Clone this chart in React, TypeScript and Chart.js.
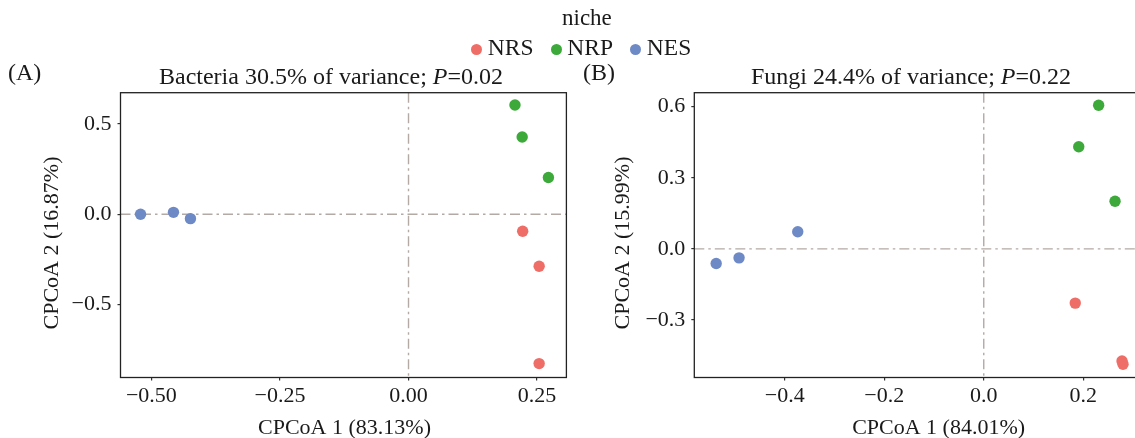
import React, { useEffect, useRef } from "react";
import { Chart, registerables } from "chart.js";

Chart.register(...registerables);

// ---------------- data ----------------
const niches = ["NRS", "NRP", "NES"];

const bacteriaNRSx = [0.222, 0.254, 0.254];
const bacteriaNRSy = [-0.094, -0.287, -0.826];
const bacteriaNRPx = [0.207, 0.221, 0.272];
const bacteriaNRPy = [0.605, 0.428, 0.204];
const bacteriaNESx = [-0.521, -0.457, -0.424];
const bacteriaNESy = [0.0, 0.011, -0.024];

const fungiNRSx = [0.184, 0.278, 0.28];
const fungiNRSy = [-0.229, -0.473, -0.487];
const fungiNRPx = [0.231, 0.191, 0.264];
const fungiNRPy = [0.606, 0.431, 0.201];
const fungiNESx = [-0.538, -0.492, -0.374];
const fungiNESy = [-0.062, -0.038, 0.072];

const bacteriaXTicks = [-0.5, -0.25, 0, 0.25];
const bacteriaYTicks = [-0.5, 0, 0.5];
const fungiXTicks = [-0.4, -0.2, 0, 0.2];
const fungiYTicks = [-0.3, 0, 0.3, 0.6];

const bacteriaXRange = [-0.56, 0.307];
const bacteriaYRange = [-0.903, 0.673];
const fungiXRange = [-0.582, 0.321];
const fungiYRange = [-0.543, 0.659];

// ---------------- styles ----------------
const COLORS = ["#EE6E67", "#3DA93B", "#6E8AC6"];
const SERIF = "'Liberation Serif', 'Times New Roman', Times, serif";
const TEXT = "#1a1a1a";
const H = 438;

const fmt = (v: number, d: number) => {
  const s = Math.abs(v).toFixed(d);
  return v < -1e-9 ? "\u2212" + s : s;
};

type PanelCfg = {
  left: number;
  width: number;
  areaLeft: number;
  areaBottom: number;
  padTop: number;
  padRight: number;
  label: string;
  labelX: number;
  titleMain: string;
  titleStat: string;
  titleCx: number;
  xTitle: string;
  xTitleCx: number;
  yTitle: string;
  yTitleCx: number;
  series: number[][][];
  xTicks: number[];
  yTicks: number[];
  xRange: number[];
  yRange: number[];
  xDec: number;
  yDec: number;
};

const panelA: PanelCfg = {
  left: 0,
  width: 580,
  areaLeft: 120.5,
  areaBottom: 377.5,
  padTop: 92.7,
  padRight: 13.6,
  label: "(A)",
  labelX: 8,
  titleMain: "Bacteria 30.5% of variance; ",
  titleStat: "=0.02",
  titleCx: 331,
  xTitle: "CPCoA 1 (83.13%)",
  xTitleCx: 344.5,
  yTitle: "CPCoA 2 (16.87%)",
  yTitleCx: 52,
  series: [
    [bacteriaNRSx, bacteriaNRSy],
    [bacteriaNRPx, bacteriaNRPy],
    [bacteriaNESx, bacteriaNESy],
  ],
  xTicks: bacteriaXTicks,
  yTicks: bacteriaYTicks,
  xRange: bacteriaXRange,
  yRange: bacteriaYRange,
  xDec: 2,
  yDec: 1,
};

const panelB: PanelCfg = {
  left: 580,
  width: 580,
  areaLeft: 114.3,
  areaBottom: 377.5,
  padTop: 92.7,
  padRight: 16.6,
  label: "(B)",
  labelX: 3,
  titleMain: "Fungi 24.4% of variance; ",
  titleStat: "=0.22",
  titleCx: 331,
  xTitle: "CPCoA 1 (84.01%)",
  xTitleCx: 358.6,
  yTitle: "CPCoA 2 (15.99%)",
  yTitleCx: 43.4,
  series: [
    [fungiNRSx, fungiNRSy],
    [fungiNRPx, fungiNRPy],
    [fungiNESx, fungiNESy],
  ],
  xTicks: fungiXTicks,
  yTicks: fungiYTicks,
  xRange: fungiXRange,
  yRange: fungiYRange,
  xDec: 1,
  yDec: 1,
};

function makeDecor(cfg: PanelCfg) {
  return {
    id: "decor",
    beforeDatasetsDraw(chart: any) {
      const { ctx, chartArea } = chart;
      const x0 = chart.scales.x.getPixelForValue(0);
      const y0 = chart.scales.y.getPixelForValue(0);
      ctx.save();
      ctx.strokeStyle = "#B3A9A5";
      ctx.lineWidth = 1.4;
      ctx.setLineDash([10, 4, 2.5, 4]);
      ctx.beginPath();
      ctx.moveTo(x0, chartArea.top);
      ctx.lineTo(x0, chartArea.bottom);
      ctx.moveTo(chartArea.left, y0);
      ctx.lineTo(chartArea.right, y0);
      ctx.stroke();
      ctx.restore();
    },
    afterDraw(chart: any) {
      const { ctx, chartArea } = chart;
      ctx.save();
      // panel box
      ctx.strokeStyle = "#222";
      ctx.lineWidth = 1.3;
      ctx.strokeRect(chartArea.left, chartArea.top, chartArea.right - chartArea.left, chartArea.bottom - chartArea.top);

      ctx.fillStyle = TEXT;
      ctx.textBaseline = "alphabetic";
      // panel label
      ctx.font = `24px ${SERIF}`;
      ctx.textAlign = "left";
      ctx.fillText(cfg.label, cfg.labelX, 80);

      // title with italic P
      const parts = [
        { t: cfg.titleMain, f: `24px ${SERIF}` },
        { t: "P", f: `italic 24px ${SERIF}` },
        { t: cfg.titleStat, f: `24px ${SERIF}` },
      ];
      const widths = parts.map((p) => {
        ctx.font = p.f;
        return ctx.measureText(p.t).width;
      });
      let x = cfg.titleCx - widths.reduce((a, b) => a + b, 0) / 2;
      parts.forEach((p, i) => {
        ctx.font = p.f;
        ctx.fillText(p.t, x, 83.8);
        x += widths[i];
      });

      // axis titles
      ctx.font = `22px ${SERIF}`;
      ctx.textAlign = "center";
      ctx.fillText(cfg.xTitle, cfg.xTitleCx, 434);
      ctx.translate(cfg.yTitleCx, 243);
      ctx.rotate(-Math.PI / 2);
      ctx.textBaseline = "middle";
      ctx.fillText(cfg.yTitle, 0, 0);
      ctx.restore();
    },
  };
}

function Panel({ cfg }: { cfg: PanelCfg }) {
  const ref = useRef<HTMLCanvasElement | null>(null);
  useEffect(() => {
    const tickFont = { family: SERIF, size: 22 };
    const grid = {
      drawOnChartArea: false,
      drawTicks: true,
      tickLength: 3,
      tickColor: "#333",
      lineWidth: 1.2,
    };
    const chart = new Chart(ref.current as HTMLCanvasElement, {
      type: "scatter",
      data: {
        datasets: niches.map((n, i) => ({
          label: n,
          data: cfg.series[i][0].map((xv, j) => ({ x: xv, y: cfg.series[i][1][j] })),
          backgroundColor: COLORS[i],
          borderWidth: 0,
          pointRadius: 5.7,
          pointHoverRadius: 5.7,
        })),
      },
      options: {
        responsive: false,
        animation: false,
        devicePixelRatio: 1,
        events: [],
        layout: {
          autoPadding: false,
          padding: { top: cfg.padTop, right: cfg.padRight, left: 0, bottom: 0 },
        },
        plugins: {
          legend: { display: false },
          tooltip: { enabled: false },
          title: { display: false },
        },
        scales: {
          x: {
            type: "linear",
            min: cfg.xRange[0],
            max: cfg.xRange[1],
            afterFit: (s: any) => {
              s.height = H - cfg.areaBottom;
            },
            afterBuildTicks: (s: any) => {
              s.ticks = cfg.xTicks.map((v) => ({ value: v }));
            },
            ticks: {
              font: tickFont,
              color: TEXT,
              padding: 3,
              autoSkip: false,
              maxRotation: 0,
              callback: (v: any) => fmt(Number(v), cfg.xDec),
            },
            grid,
            border: { display: false },
          },
          y: {
            type: "linear",
            min: cfg.yRange[0],
            max: cfg.yRange[1],
            afterFit: (s: any) => {
              s.width = cfg.areaLeft;
            },
            afterBuildTicks: (s: any) => {
              s.ticks = cfg.yTicks.map((v) => ({ value: v }));
            },
            ticks: {
              font: tickFont,
              color: TEXT,
              padding: 6,
              autoSkip: false,
              callback: (v: any) => fmt(Number(v), cfg.yDec),
            },
            grid,
            border: { display: false },
          },
        },
      } as any,
      plugins: [makeDecor(cfg)],
    });
    return () => chart.destroy();
  }, [cfg]);
  return (
    <canvas
      ref={ref}
      width={cfg.width}
      height={H}
      style={{ position: "absolute", left: cfg.left, top: 0, width: cfg.width, height: H }}
    />
  );
}

export default function App() {
  return (
    <div
      style={{
        position: "absolute",
        left: 0,
        top: 0,
        width: 1135,
        height: H,
        overflow: "hidden",
        background: "#fff",
      }}
    >
      <Panel cfg={panelA} />
      <Panel cfg={panelB} />
      <div
        style={{
          position: "absolute",
          left: 562,
          top: 5.7,
          fontFamily: SERIF,
          fontSize: 23,
          lineHeight: 1,
          color: TEXT,
        }}
      >
        niche
      </div>
      <div
        style={{
          position: "absolute",
          left: 471,
          top: 36.3,
          display: "flex",
          alignItems: "center",
          fontFamily: SERIF,
          fontSize: 23.5,
          lineHeight: 1,
          color: TEXT,
        }}
      >
        {niches.map((n, i) => (
          <div key={n} style={{ display: "flex", alignItems: "center", marginRight: 17 }}>
            <span
              style={{
                display: "inline-block",
                width: 11,
                height: 11,
                borderRadius: "50%",
                background: COLORS[i],
                marginRight: 5.8,
                marginTop: 2,
              }}
            />
            <span>{n}</span>
          </div>
        ))}
      </div>
    </div>
  );
}
